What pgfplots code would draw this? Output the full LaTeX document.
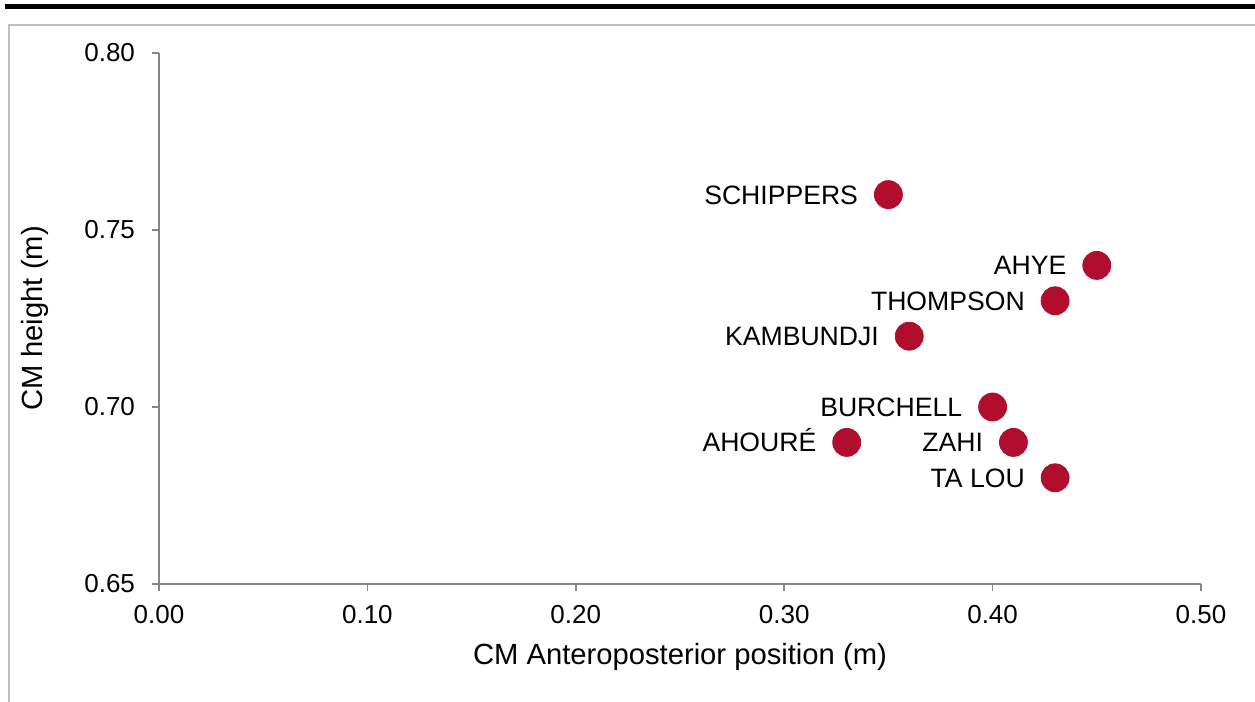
\documentclass[border=0pt]{standalone}
\usepackage{pgfplots}
\pgfplotsset{compat=1.18}
\usepackage{fontspec}
\setmainfont{Liberation Sans}
\definecolor{dotred}{RGB}{176,14,44}
\definecolor{axgray}{RGB}{134,134,134}
\definecolor{framegray}{RGB}{191,191,191}
\begin{document}
\begin{tikzpicture}
\useasboundingbox (-79.5bp,-59bp) rectangle (548bp,292bp);
\fill[black] (-77bp,287.5bp) rectangle (548bp,290bp);
\draw[framegray, line width=0.8bp] (-75bp,-59bp) -- (-75bp,279.5bp) -- (548bp,279.5bp);
\begin{axis}[
  at={(0,0)}, anchor=south west,
  scale only axis, width=521bp, height=265.5bp,
  xmin=0, xmax=0.5, ymin=0.65, ymax=0.80,
  xtick={0,0.1,0.2,0.3,0.4,0.5},
  ytick={0.65,0.70,0.75,0.80},
  axis x line=bottom, axis y line=left,
  axis line style={axgray, line width=0.75bp, -},
  tick style={axgray, line width=0.75bp},
  tick align=outside, major tick length=3.5bp,
  /pgf/number format/assume math mode=true,
  /pgf/number format/fixed, /pgf/number format/fixed zerofill,
  /pgf/number format/precision=2,
  ticklabel style={font=\fontsize{13bp}{15bp}\selectfont, black},
  yticklabel style={xshift=-5bp},
  xticklabel style={yshift=-3.5bp},
  xlabel={CM Anteroposterior position (m)},
  ylabel={CM height (m)},
  label style={font=\fontsize{14.6bp}{17bp}\selectfont, black},
  xlabel style={at={(axis description cs:0.5,-0.1375)}, anchor=center},
  ylabel style={at={(axis description cs:-0.119,0.5)}, anchor=center},
  clip=false,
]
\addplot[only marks, mark=*, mark size=7bp, color=dotred,
  point meta=explicit symbolic,
  nodes near coords,
  nodes near coords style={anchor=base east, inner sep=0pt, xshift=-15bp, yshift=-4.75bp,
    font=\fontsize{13.3bp}{15bp}\selectfont, text=black}]
coordinates {
(0.35,0.76) [SCHIPPERS]
(0.45,0.74) [AHYE]
(0.43,0.73) [THOMPSON]
(0.36,0.72) [KAMBUNDJI]
(0.40,0.70) [BURCHELL]
(0.33,0.69) [AHOURÉ]
(0.41,0.69) [ZAHI]
(0.43,0.68) [TA LOU]
};
\end{axis}
\end{tikzpicture}
\end{document}
